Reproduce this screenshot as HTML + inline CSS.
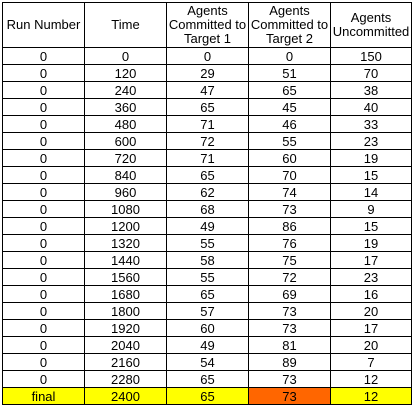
<!DOCTYPE html>
<html><head><meta charset="utf-8"><style>
html,body{margin:0;padding:0;background:#fff;width:415px;height:408px;overflow:hidden}
table{position:absolute;left:2px;top:2px;border-collapse:collapse;table-layout:fixed;font-family:"Liberation Sans",sans-serif;font-size:13px;color:#000}
td,th{border:1px solid #000;text-align:center;padding:0;height:16px;line-height:15px;overflow:hidden;white-space:nowrap}
th{font-weight:normal;height:44px;white-space:normal;line-height:14px}
tr.final td{background:#ffff00}
tr.final td.hl{background:#ff6600}
</style></head><body>
<table>
<colgroup><col style="width:82px"><col style="width:82px"><col style="width:82px"><col style="width:82px"><col style="width:81px"></colgroup>
<thead><tr>
<th>Run Number</th>
<th>Time</th>
<th>Agents Committed to Target 1</th>
<th>Agents Committed to Target 2</th>
<th>Agents Uncommitted</th>
</tr></thead>
<tbody id="tb"></tbody>
</table>
<script>
const times=[0,120,240,360,480,600,720,840,960,1080,1200,1320,1440,1560,1680,1800,1920,2040,2160,2280,2400];
const target1=[0,29,47,65,71,72,71,65,62,68,49,55,58,55,65,57,60,49,54,65,65];
const target2=[0,51,65,45,46,55,60,70,74,73,86,76,75,72,69,73,73,81,89,73,73];
const uncommitted=[150,70,38,40,33,23,19,15,14,9,15,19,17,23,16,20,17,20,7,12,12];
const tb=document.getElementById('tb');
times.forEach((t,i)=>{
  const last=i===times.length-1;
  const tr=document.createElement('tr');
  
  
  if(last) tr.className='final';
  const vals=[last?'final':'0',t,target1[i],target2[i],uncommitted[i]];
  const names=['run-number-cell','time-cell','target1-cell','target2-cell','uncommitted-cell'];
  vals.forEach((v,j)=>{
    const td=document.createElement('td');
    
    
    if(last&&j===3) td.className='hl';
    td.textContent=v;
    tr.appendChild(td);
  });
  tb.appendChild(tr);
});
</script>
</body></html>
